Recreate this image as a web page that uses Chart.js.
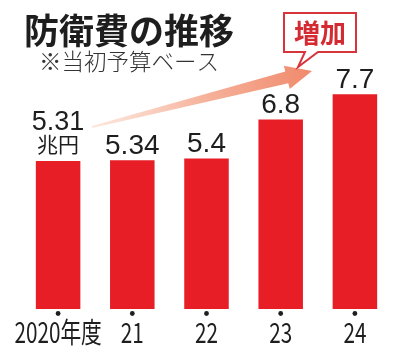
<!DOCTYPE html>
<html>
<head>
<meta charset="utf-8">
<script src="https://cdn.jsdelivr.net/npm/chart.js@4"></script>
<style>
  html, body { margin: 0; padding: 0; background: #fff; }
  #wrap { width: 400px; height: 358px; }
</style>
</head>
<body>
<div id="wrap"><canvas id="c" width="400" height="358"></canvas></div>
<script>
// data
const years = ['2020年度', '21', '22', '23', '24'];
const budget = [5.31, 5.34, 5.4, 6.8, 7.7];
const valueLabels = ['5.31', '5.34', '5.4', '6.8', '7.7'];
const unitLabel = '兆円';
const titleText = '防衛費の推移';
const noteText = '※当初予算ベース';
const calloutText = '増加';

const RED = '#e81e27';
const INK = '#1e1e1e';
const JP = '"Noto Sans CJK JP", "Liberation Sans", sans-serif';
const NUM = '"Liberation Sans", "Noto Sans CJK JP", sans-serif';

const decor = {
  id: 'decor',
  beforeDatasetsDraw(chart) {
    const ctx = chart.ctx;
    // title + note
    ctx.save();
    ctx.fillStyle = INK;
    ctx.textBaseline = 'middle';
    ctx.textAlign = 'left';
    ctx.font = 'bold 35px ' + JP;
    ctx.fillText(titleText, 24, 31);
    ctx.fillStyle = '#333';
    ctx.font = '300 22.5px ' + JP;
    ctx.fillText(noteText, 39, 61);

    // rising arrow
    const x0 = 92, y0 = 127, x1 = 312, y1 = 71;
    const dx = x1 - x0, dy = y1 - y0, len = Math.hypot(dx, dy);
    const ux = dx / len, uy = dy / len, nx = -uy, ny = ux;
    const headLen = 26, headW = 12, shaftEnd = 6, shaftStart = 1;
    const bx = x1 - ux * headLen, by = y1 - uy * headLen;
    const g = ctx.createLinearGradient(x0, y0, x1, y1);
    g.addColorStop(0, 'rgba(250,215,200,0.6)');
    g.addColorStop(0.5, '#f6b39c');
    g.addColorStop(1, '#f08a6c');
    ctx.fillStyle = g;
    ctx.beginPath();
    ctx.moveTo(x0 + nx * shaftStart, y0 + ny * shaftStart);
    ctx.lineTo(bx + nx * shaftEnd, by + ny * shaftEnd);
    ctx.lineTo(bx + nx * headW, by + ny * headW);
    ctx.lineTo(x1, y1);
    ctx.lineTo(bx - nx * headW, by - ny * headW);
    ctx.lineTo(bx - nx * shaftEnd, by - ny * shaftEnd);
    ctx.lineTo(x0 - nx * shaftStart, y0 - ny * shaftStart);
    ctx.closePath();
    ctx.fill();

    // callout box
    ctx.fillStyle = '#fff';
    ctx.strokeStyle = '#d8343b';
    ctx.lineWidth = 2;
    ctx.beginPath();
    ctx.moveTo(284, 13);
    ctx.lineTo(356, 13);
    ctx.lineTo(356, 52);
    ctx.lineTo(318, 52);
    ctx.lineTo(298, 67);
    ctx.lineTo(305, 52);
    ctx.lineTo(284, 52);
    ctx.closePath();
    ctx.fill();
    ctx.stroke();
    ctx.fillStyle = '#d42a31';
    ctx.textAlign = 'center';
    ctx.font = 'bold 26px ' + JP;
    ctx.fillText(calloutText, 320, 33);
    ctx.restore();
  },
  afterDatasetsDraw(chart) {
    const ctx = chart.ctx;
    const xs = chart.scales.x;
    const meta = chart.getDatasetMeta(0);
    ctx.save();
    ctx.textAlign = 'center';
    meta.data.forEach((bar, i) => {
      const x = bar.x;
      ctx.fillStyle = INK;
      ctx.textBaseline = 'alphabetic';
      if (i === 0) {
        ctx.font = '27px ' + NUM;
        ctx.fillText(valueLabels[i], x, bar.y - 31);
        ctx.font = '21px ' + JP;
        ctx.textBaseline = 'middle';
        ctx.fillText(unitLabel, x, bar.y - 17);
      } else {
        ctx.font = '28px ' + NUM;
        ctx.fillText(valueLabels[i], x, bar.y - 6);
      }
      // tick dot
      ctx.beginPath();
      ctx.arc(x, chart.chartArea.bottom + 4.5, 2.4, 0, Math.PI * 2);
      ctx.fill();
      // condensed year label
      ctx.save();
      ctx.translate(xs.getPixelForTick(i), chart.chartArea.bottom + 23);
      ctx.scale(0.74, 1);
      ctx.textBaseline = 'middle';
      ctx.font = '28px ' + JP;
      ctx.fillText(years[i], 0, 0);
      ctx.restore();
    });
    ctx.restore();
  }
};

new Chart(document.getElementById('c'), {
  type: 'bar',
  data: {
    labels: years,
    datasets: [{
      data: budget,
      backgroundColor: RED,
      borderWidth: 0,
      categoryPercentage: 1,
      barPercentage: 0.6,
    }],
  },
  options: {
    responsive: false,
    animation: false,
    layout: { padding: { top: 86, left: 21, right: 8, bottom: 49 } },
    plugins: { legend: { display: false }, tooltip: { enabled: false } },
    scales: {
      x: {
        grid: { display: false, drawTicks: false },
        border: { display: false },
        ticks: { display: false },
      },
      y: {
        display: false,
        min: 0,
        max: 8,
      },
    },
  },
  plugins: [decor],
});
</script>
</body>
</html>
